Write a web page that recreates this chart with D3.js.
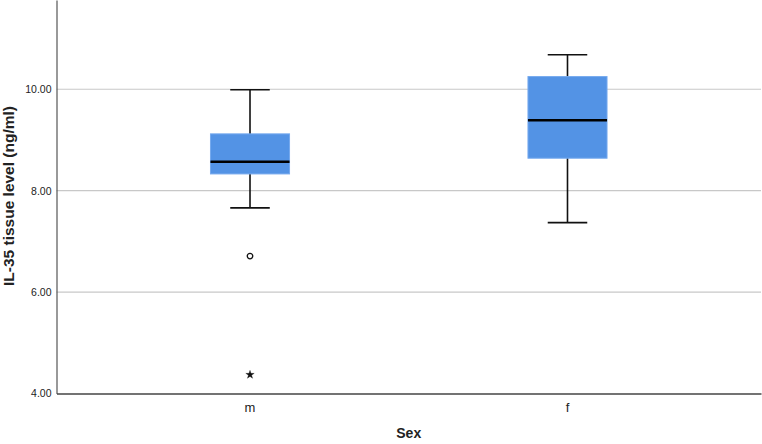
<!DOCTYPE html>
<html>
<head>
<meta charset="utf-8">
<script src="https://cdn.jsdelivr.net/npm/d3@7"></script>
<style>
  body { margin: 0; background: #fff; }
  svg { display: block; font-family: Arial, "Liberation Sans", sans-serif; }
</style>
</head>
<body>
<svg id="chartSVG"></svg>
<script>
// data
let categories = ['m', 'f'];
let whiskerLow  = [7.66, 7.37];
let q1          = [8.33, 8.64];
let medians     = [8.57, 9.39];
let q3          = [9.12, 10.25];
let whiskerHigh = [9.99, 10.68];
// outliers: circle = mild, star = extreme
let outlierCat  = ['m', 'm'];
let outlierVal  = [6.71, 4.37];
let outlierType = ['circle', 'star'];
let yTicks = [4, 6, 8, 10];

let widthSVG = 762;
let heightSVG = 444;
let margins = { top: 0, bottom: 50.5, right: 1, left: 56.5 };
let width = widthSVG - margins.left - margins.right;
let height = heightSVG - margins.top - margins.bottom;

let SVG = d3.select('svg#chartSVG')
            .attr('width', widthSVG)
            .attr('height', heightSVG);

let SVGG = SVG.append('g')
              .attr('transform', `translate(${margins.left}, ${margins.top})`);

let y = d3.scaleLinear().domain([4, 11.76]).range([height, 0]);
let x = d3.scaleBand().domain(categories).range([0, width])
          .paddingInner(0.751).paddingOuter(0.485);

// gridlines
SVGG.append('g')
    .selectAll('line')
    .data(yTicks.filter(d => d > 4))
    .enter()
    .append('line')
    .attr('x1', 0).attr('x2', width)
    .attr('y1', d => y(d)).attr('y2', d => y(d))
    .style('stroke', '#c8c8c8')
    .style('stroke-width', 1.2);

// y axis
let yAxis = d3.axisLeft(y).tickValues(yTicks).tickSize(0).tickPadding(5)
              .tickFormat(d3.format('.2f'));
let gy = SVGG.append('g').call(yAxis);
gy.select('.domain').style('stroke', '#555').style('stroke-width', 1.2);
gy.selectAll('text').style('font-size', '10.5px').style('fill', '#222');

// x axis
let xAxis = d3.axisBottom(x).tickSize(0).tickPadding(9);
let gx = SVGG.append('g').attr('transform', `translate(0, ${height})`).call(xAxis);
gx.select('.domain').style('stroke', '#444').style('stroke-width', 1.6);
gx.selectAll('text').style('font-size', '13px').style('fill', '#222');

// boxes
let boxData = categories.map((c, i) => ({
  cat: c, lo: whiskerLow[i], q1: q1[i], med: medians[i], q3: q3[i], hi: whiskerHigh[i]
}));

let boxes = SVGG.selectAll('g.box')
                .data(boxData)
                .enter()
                .append('g')
                .classed('box', true)
                .attr('transform', d => `translate(${x(d.cat) + x.bandwidth() / 2}, 0)`);

let bw = x.bandwidth();
let capW = bw / 2;

boxes.append('line')
     .attr('x1', 0).attr('x2', 0)
     .attr('y1', d => y(d.lo)).attr('y2', d => y(d.hi))
     .style('stroke', '#111').style('stroke-width', 1.6);

['lo', 'hi'].forEach(k => {
  boxes.append('line')
       .attr('x1', -capW / 2).attr('x2', capW / 2)
       .attr('y1', d => y(d[k])).attr('y2', d => y(d[k]))
       .style('stroke', '#111').style('stroke-width', 1.6);
});

boxes.append('rect')
     .attr('x', -bw / 2)
     .attr('width', bw)
     .attr('y', d => y(d.q3))
     .attr('height', d => y(d.q1) - y(d.q3))
     .style('fill', '#5393e5')
     .style('stroke', '#76aaee')
     .style('stroke-width', 1);

boxes.append('line')
     .attr('x1', -bw / 2).attr('x2', bw / 2)
     .attr('y1', d => y(d.med)).attr('y2', d => y(d.med))
     .style('stroke', '#000').style('stroke-width', 2.6);

// outliers
let outliers = outlierVal.map((v, i) => ({ cat: outlierCat[i], v: v, type: outlierType[i] }));
SVGG.selectAll('path.outlier')
    .data(outliers)
    .enter()
    .append('path')
    .attr('transform', d => `translate(${x(d.cat) + bw / 2}, ${y(d.v)})`)
    .attr('d', d => d.type === 'circle'
      ? d3.symbol(d3.symbolCircle, 24)()
      : d3.symbol(d3.symbolStar, 22)())
    .style('fill', d => d.type === 'circle' ? 'none' : '#111')
    .style('stroke', '#111')
    .style('stroke-width', d => d.type === 'circle' ? 1.3 : 0.3);

// axis titles
SVG.append('text')
   .attr('x', margins.left + width / 2)
   .attr('y', 438)
   .style('text-anchor', 'middle')
   .style('font-size', '14px')
   .style('font-weight', 'bold')
   .style('fill', '#222')
   .text('Sex');

SVG.append('text')
   .attr('transform', `translate(14, ${196}) rotate(-90)`)
   .style('text-anchor', 'middle')
   .style('font-size', '15.5px')
   .style('font-weight', 'bold')
   .style('fill', '#222')
   .text('IL-35 tissue level (ng/ml)');
</script>
</body>
</html>
